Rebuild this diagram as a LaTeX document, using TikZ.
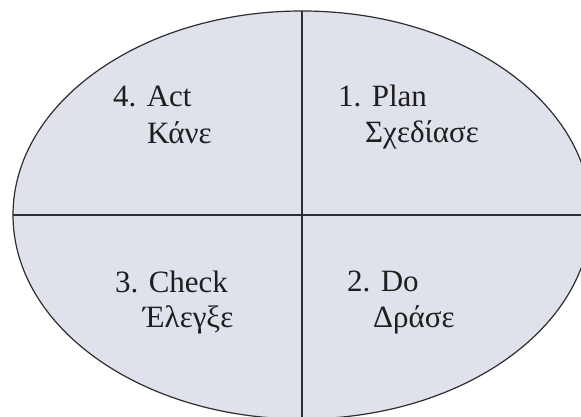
\documentclass[tikz,border=0pt]{standalone}
\usepackage{fontspec}
\setmainfont{Liberation Serif}
\definecolor{ellfill}{RGB}{223,225,235}
\definecolor{inkline}{RGB}{45,45,50}
\definecolor{inktext}{RGB}{30,30,30}
\begin{document}
\begin{tikzpicture}[x=1pt,y=1pt,
  outline/.style={draw=inkline,line width=1.2pt},
  label/.style={inner sep=0pt,anchor=base west,text=inktext,font=\fontsize{31}{37}\selectfont}]
\useasboundingbox (0,0) rectangle (581,417);
\begin{scope}
\clip (0,0) rectangle (581,417);
\coordinate (c) at (302,202);
\fill[ellfill] (c) ellipse [x radius=289, y radius=204];
\draw[outline] (c) ellipse [x radius=289, y radius=204];
\coordinate (hl) at (13,202);
\coordinate (hr) at (581,202);
\coordinate (vt) at (302,406);
\coordinate (vb) at (302,0);
\draw[outline] (hl) -- (hr);
\draw[outline] (vt) -- (vb);
\end{scope}
\node[label] (act) at (113,310) {4. Act};
\node[label] (actg) at (147,273) {Κάνε};
\node[label] (plan) at (338,310) {1. Plan};
\node[label] (plang) at (365,274) {Σχεδίασε};
\node[label] (check) at (115,124) {3. Check};
\node[label] (checkg) at (143,89) {Έλεγξε};
\node[label] (do) at (347,125) {2. Do};
\node[label] (dog) at (373,89) {Δράσε};
\end{tikzpicture}
\end{document}
